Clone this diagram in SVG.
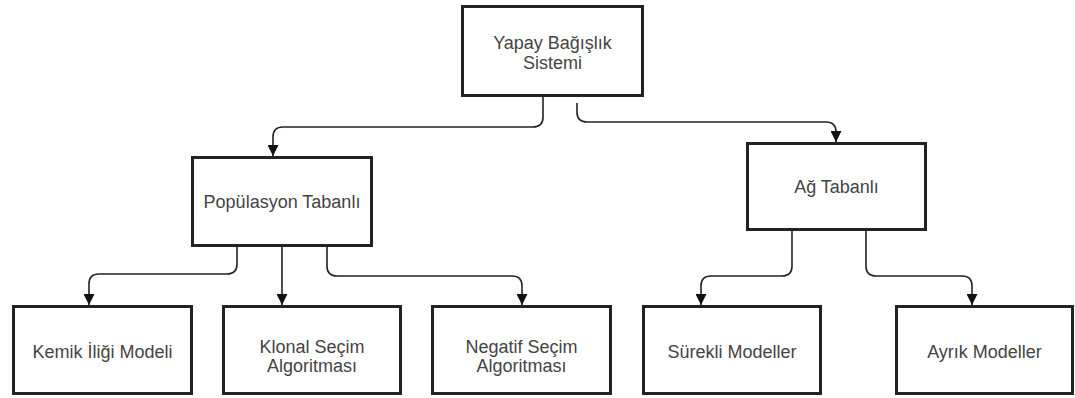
<svg xmlns="http://www.w3.org/2000/svg" width="1075" height="398" viewBox="0 0 1075 398">
<defs>
<style>
.box{fill:#fff;stroke:#222;stroke-width:3}
.lbl{font-family:"Liberation Sans",Arial,sans-serif;font-size:18px;fill:#444;text-anchor:middle}
.edge{fill:none;stroke:#222;stroke-width:1.6}
</style>
<marker id="arr" viewBox="0 0 10 10" refX="10" refY="5" markerWidth="11" markerHeight="11" markerUnits="userSpaceOnUse" orient="auto">
<path d="M0,0 L10,5 L0,10 Z" fill="#111"/>
</marker>
</defs>
<rect width="1075" height="398" fill="#fff"/>
<g id="connectors">
<path class="edge" marker-end="url(#arr)" d="M543,97 V117 Q543,127 533,127 H283 Q273,127 273,137 V156"/>
<path class="edge" marker-end="url(#arr)" d="M577,103 V112 Q577,122 587,122 H826 Q836,122 836,132 V142"/>
<path class="edge" marker-end="url(#arr)" d="M237,247 V264 Q237,274 227,274 H99 Q89,274 89,284 V305"/>
<path class="edge" marker-end="url(#arr)" d="M282,247 V305"/>
<path class="edge" marker-end="url(#arr)" d="M327,247 V266 Q327,276 337,276 H512 Q522,276 522,286 V305"/>
<path class="edge" marker-end="url(#arr)" d="M792,231 V266 Q792,276 782,276 H711 Q701,276 701,286 V305"/>
<path class="edge" marker-end="url(#arr)" d="M866,231 V266 Q866,276 876,276 H962 Q972,276 972,286 V305"/>
</g>
<g id="n-root"><rect class="box" x="462.5" y="6.5" width="180" height="89"/><text class="lbl" x="552.5" y="49">Yapay Bağışlık</text><text class="lbl" x="552.5" y="69">Sistemi</text></g>
<g id="n-pop"><rect class="box" x="192.5" y="157.5" width="179" height="88"/><text class="lbl" x="282" y="208">Popülasyon Tabanlı</text></g>
<g id="n-ag"><rect class="box" x="747.5" y="143.5" width="178" height="86"/><text class="lbl" x="836.5" y="193">Ağ Tabanlı</text></g>
<g id="n-kemik"><rect class="box" x="13.5" y="306.5" width="178" height="87"/><text class="lbl" x="102.5" y="358">Kemik İliği Modeli</text></g>
<g id="n-klonal"><rect class="box" x="223.5" y="306.5" width="177" height="87"/><text class="lbl" x="312" y="353">Klonal Seçim</text><text class="lbl" x="312" y="372">Algoritması</text></g>
<g id="n-negatif"><rect class="box" x="432.5" y="306.5" width="178" height="87"/><text class="lbl" x="521.5" y="353">Negatif Seçim</text><text class="lbl" x="521.5" y="372">Algoritması</text></g>
<g id="n-surekli"><rect class="box" x="643.5" y="306.5" width="177" height="87"/><text class="lbl" x="732" y="358">Sürekli Modeller</text></g>
<g id="n-ayrik"><rect class="box" x="896.5" y="306.5" width="176" height="87"/><text class="lbl" x="984.5" y="358">Ayrık Modeller</text></g>
</svg>
